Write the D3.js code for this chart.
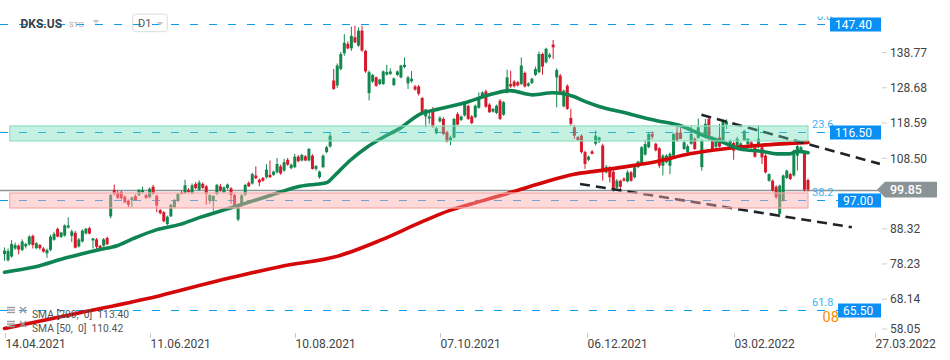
<!DOCTYPE html>
<html><head><meta charset="utf-8">
<script src="https://cdn.jsdelivr.net/npm/d3@7"></script>
<style>
body{margin:0;background:#fff;}
svg{display:block;font-family:Roboto,"Noto Sans",sans-serif;}
.pre{white-space:pre;}
</style>
</head><body>
<svg id="chart" width="950" height="360"></svg>
<script>
// ---------- DATA ----------
const symbol = "DKS.US";
const candles = [ // [open, high, low, close]
[81.4,83.3,79.5,82.4],[79.6,83.0,79.3,82.3],[80.7,85.4,80.4,84.3],[83.0,84.7,82.6,84.0],[83.8,84.2,81.3,82.7],
[82.6,85.6,82.2,85.0],[83.6,84.6,83.0,84.3],[84.2,86.8,83.8,86.4],[86.6,87.0,83.0,84.0],[83.1,84.8,82.8,84.5],
[84.0,84.3,82.6,83.1],[83.0,83.4,81.8,82.1],[81.6,83.0,80.3,82.6],[82.6,86.9,82.2,86.4],[85.5,87.8,85.2,87.2],
[88.6,89.0,86.2,86.4],[86.3,87.8,86.0,87.6],[86.7,89.9,86.4,89.6],[89.0,91.9,88.7,89.6],[86.6,88.4,84.8,87.9],
[87.5,88.0,83.0,83.2],[83.6,86.0,83.3,85.6],[85.0,88.5,84.7,88.1],[87.3,88.9,87.0,88.7],[88.8,89.2,87.0,87.3],
[85.3,86.0,83.0,85.9],[85.6,86.0,82.6,83.5],[83.8,84.0,82.5,83.0],[83.8,86.0,83.5,85.6],[86.0,86.4,84.0,84.2],
[92.2,98.6,91.6,98.3],[99.8,101.3,98.2,98.6],[99.0,99.6,97.2,97.5],[99.2,99.5,97.0,97.4],[97.8,98.2,96.0,96.2],
[96.7,97.0,94.8,95.5],[96.8,97.8,94.8,97.6],[98.0,98.5,96.7,96.9],[98.3,100.0,98.0,99.8],[99.1,100.7,98.9,99.8],
[98.3,98.6,97.2,97.5],[97.7,100.5,97.4,100.1],[100.7,101.2,98.4,98.6],[98.1,98.4,93.4,95.3],[94.0,94.3,92.8,93.1],
[93.4,93.7,90.5,90.8],[90.0,92.4,89.6,92.1],[92.2,95.8,92.0,95.5],[94.8,97.2,94.5,96.9],[96.6,98.9,96.3,98.6],
[99.0,99.6,98.5,98.6],[98.8,102.7,98.6,101.1],[99.8,100.3,98.9,99.2],[98.8,101.6,98.5,101.1],[101.5,102.0,100.0,100.3],
[99.8,102.5,99.5,101.9],[101.5,101.9,100.0,100.4],[100.8,101.2,95.5,98.6],[96.7,98.5,95.8,98.3],[96.7,98.2,93.8,98.1],
[98.6,101.5,98.3,101.2],[100.8,101.5,99.3,99.6],[99.1,100.8,98.8,100.5],[100.3,101.6,99.9,101.3],[100.2,100.6,95.8,98.3],
[98.3,98.6,94.8,95.1],[91.3,95.8,90.8,95.5],[95.3,98.6,95.0,98.2],[98.4,101.5,98.1,101.2],[101.8,102.2,100.6,100.8],
[101.6,104.7,101.3,104.3],[103.9,106.5,102.9,103.1],[102.7,103.0,100.8,101.9],[103.2,103.5,102.1,102.4],[103.4,107.2,103.0,105.6],
[104.1,108.2,103.2,103.4],[104.1,105.3,103.8,105.0],[104.8,108.9,104.5,107.2],[106.5,107.0,104.1,104.5],[105.3,108.7,105.0,107.7],
[108.4,108.9,106.7,107.0],[106.0,107.3,105.7,107.0],[106.3,110.1,106.0,109.3],[109.3,109.8,107.7,108.0],[108.2,110.1,107.9,109.8],
[109.4,109.7,108.0,108.2],[108.2,111.8,107.9,111.5],[109.6,110.0,105.6,105.8],[105.8,106.9,105.3,106.6],[103.4,105.3,103.0,105.0],
[106.3,109.9,106.0,109.6],[110.6,112.4,110.3,112.0],[112.2,116.1,111.9,115.3],[131.1,134.4,128.4,128.7],[129.7,136.0,129.0,135.4],
[134.4,139.3,134.0,138.7],[138.9,144.4,138.2,141.9],[141.6,142.3,140.0,140.3],[140.3,146.5,139.6,143.9],[143.5,146.8,141.8,142.0],
[141.1,146.3,140.7,145.4],[145.4,146.8,139.3,139.7],[139.6,139.9,133.3,133.7],[127.5,134.0,125.4,133.5],[130.8,133.0,130.4,132.7],
[132.0,132.3,129.3,129.6],[130.1,131.6,129.8,131.4],[130.1,134.0,129.8,133.7],[132.8,135.6,132.5,133.5],[133.0,134.6,132.7,133.7],
[129.8,132.0,129.5,131.7],[132.7,134.0,132.4,133.7],[132.0,135.6,131.7,135.4],[135.0,137.7,134.6,135.6],[130.3,132.4,128.7,132.0],
[130.9,133.8,130.5,131.6],[129.4,129.8,128.2,128.5],[129.4,129.8,126.8,127.3],[126.1,126.4,121.5,122.0],[120.8,123.0,117.7,122.8],
[120.2,122.5,118.7,120.8],[122.8,123.5,117.6,117.9],[116.0,117.8,115.7,117.4],[119.4,120.9,119.1,120.4],[120.1,120.6,115.5,115.8],
[116.3,116.7,113.4,113.6],[114.0,115.3,112.6,114.8],[114.8,120.4,114.5,120.1],[121.5,122.0,118.2,118.5],[119.8,121.1,119.5,120.8],
[121.1,124.9,120.8,124.6],[123.8,124.2,119.8,120.1],[120.8,121.2,118.6,118.9],[120.6,124.2,120.3,123.9],[123.3,127.7,123.0,126.3],
[126.3,128.0,126.0,127.7],[128.0,128.5,123.3,123.6],[124.2,124.6,121.9,122.0],[122.2,123.2,121.9,123.0],[121.8,124.2,121.5,123.9],
[125.3,125.8,119.8,120.1],[121.3,125.2,121.0,124.9],[127.7,134.2,127.4,132.0],[130.1,133.9,129.0,129.4],[130.8,131.2,129.1,129.5],
[130.6,131.0,129.4,129.7],[130.1,137.7,129.8,135.4],[133.3,133.7,129.1,129.4],[129.6,130.6,129.3,130.3],[130.4,131.9,130.1,131.6],
[132.7,135.1,132.4,134.4],[133.5,139.4,133.2,138.7],[138.7,139.1,132.8,135.1],[136.3,140.5,136.0,140.2],[137.8,139.0,137.4,138.5],
[141.4,142.7,137.3,140.6],[132.0,134.6,123.4,134.1],[132.5,133.0,127.4,127.7],[123.7,128.5,123.4,128.2],[129.6,130.0,122.7,123.0],
[120.4,123.0,118.2,118.7],[117.7,118.4,114.4,115.3],[114.9,115.2,113.9,114.0],[115.3,115.7,110.2,110.6],[110.6,111.0,105.8,107.2],
[108.4,109.6,108.0,109.3],[110.8,111.2,110.0,110.1],[113.0,116.8,112.5,115.3],[113.6,115.0,113.2,114.8],[112.5,113.0,102.4,104.8],
[104.8,106.9,104.5,106.4],[106.3,106.6,101.9,103.4],[105.0,105.4,99.3,99.8],[100.4,102.9,100.1,102.4],[102.4,102.7,99.6,100.7],
[103.0,103.4,102.2,102.4],[102.2,105.4,101.9,104.8],[104.8,105.2,102.1,102.4],[103.4,107.0,103.1,106.3],[106.3,108.1,106.0,107.9],
[107.2,112.3,106.9,112.0],[109.9,114.1,109.6,112.9],[112.0,116.2,111.7,115.8],[115.8,116.5,114.3,115.0],[113.0,113.3,110.8,111.1],
[111.7,112.0,106.0,106.7],[106.7,110.0,103.9,109.6],[107.7,110.0,107.4,109.6],[106.7,110.5,104.3,110.1],[109.6,116.0,109.3,115.8],
[116.2,117.8,113.5,113.9],[116.2,117.5,114.3,114.4],[111.5,113.8,111.2,113.4],[110.6,112.8,110.3,112.3],[113.0,118.2,112.7,115.8],
[114.4,114.8,111.2,111.5],[114.7,120.2,114.4,117.7],[106.3,114.2,105.3,113.9],[114.8,120.1,114.5,118.7],[120.1,120.6,114.0,114.4],
[113.9,114.3,110.7,111.0],[112.1,114.2,111.8,113.9],[114.8,118.7,111.9,112.2],[113.3,119.9,113.0,119.6],[118.5,120.0,117.2,119.4],
[112.4,114.2,112.1,113.8],[113.2,113.6,108.4,111.0],[112.0,115.0,111.7,114.4],[112.0,113.5,111.7,113.1],[114.1,117.0,113.8,116.7],
[112.9,114.6,112.6,114.4],[113.4,113.7,111.7,112.0],[112.0,112.3,109.0,109.3],[112.0,118.2,111.7,114.4],[112.0,112.4,107.2,109.1],
[109.6,110.0,104.5,104.8],[102.4,104.5,102.1,104.3],[102.4,102.8,99.3,99.6],[100.7,101.1,97.2,97.7],[92.9,101.3,91.9,101.0],
[96.7,104.2,96.4,103.9],[103.2,105.6,102.9,105.3],[104.3,104.7,102.6,102.9],[103.9,111.3,103.6,111.0],[109.6,112.6,105.3,112.3],
[111.0,112.4,110.7,112.0],[110.1,110.5,99.3,99.8],[102.6,103.0,99.3,99.85]
];
// moving averages: [bar index, value]
const sma50 = [[0,76.2],[8.1,77.6],[17.7,80.4],[27,82.7],[31.8,83.8],[36.3,85.8],[43.1,88.4],[49.6,89.9],[55.2,91.9],
[64.5,94.8],[74.2,97.9],[83.5,100.8],[91.1,101.9],[92.8,103.4],[97.6,108.2],[102.4,112.0],[106.9,114.8],[111.7,117.4],
[117.4,121.5],[123,123.0],[130.6,124.9],[138,127.3],[142.8,128.2],[149.3,127.0],[154.9,127.6],[160.6,126.6],[164.5,124.9],
[168.2,123.6],[174.7,122.0],[184.3,119.6],[190.8,118.2],[196.5,115.8],[203,113.4],[207.8,111.5],[214.3,110.8],[218.2,110.1],
[221.9,110.1],[223.9,110.8],[227,110.42]];
const sma200 = [[0,60.1],[21.3,64.6],[43.9,69.5],[61.7,74.1],[77.8,77.8],[94.8,81.0],[106.1,85.3],[117.4,90.4],[125.8,93.9],
[135.2,96.7],[141.9,98.7],[151.3,101.6],[160.6,104.2],[168.2,105.3],[174.7,106.3],[184.3,107.9],[193.6,110.1],[203,111.5],
[212.6,112.5],[221.9,113.1],[227,113.40]];
const trendUpper = [[196.9,121.27],[247.3,107.23]];
const trendLower = [[162.6,101.49],[239.4,89.08]];
const priceTicks = [138.77,128.68,118.59,108.50,88.32,78.23,68.14,58.05];
const dateLabels = ["14.04.2021","11.06.2021","10.08.2021","07.10.2021","06.12.2021","03.02.2022","27.03.2022"];
const dateIdx = [0,41,82,123,164.5,206,246];
const levels = [147.40,116.50,97.00,65.50];
const fibLevels = [116.50,97.00,65.50];
const fibLabels = ["23.6","38.2","61.8"];
const lastPrice = 99.85;
const zoneGreen = [113.8,118.1];
const zonePink = [94.6,98.9];
const zoneIdx = [1.5,227];
const legendRows = ["SMA [200,  0]  113.40","SMA [50,  0]  110.42"];

// ---------- SCALES ----------
const svg = d3.select("#chart");
const x = d3.scaleLinear().domain([0, candles.length-1]).range([4.5, 808]);
const y = d3.scaleLinear().domain([147.4, 65.5]).range([23.6, 309.6]);
const BLUE = "#0a9cf0", UP = "#14874f", DOWN = "#d61a2b";

// level dashed lines
const boxLeft = {147.4:830, 116.5:830, 97:838, 65.5:838};
levels.forEach(v => {
  svg.append("line").attr("x1",0).attr("x2",boxLeft[v]).attr("y1",Math.round(y(v))+0.5).attr("y2",Math.round(y(v))+0.5)
    .attr("stroke",BLUE).attr("stroke-width",1.2).attr("stroke-dasharray","8,11");
});
// last price line
svg.append("line").attr("x1",0).attr("x2",880).attr("y1",Math.round(y(lastPrice))+0.5).attr("y2",Math.round(y(lastPrice))+0.5)
  .attr("stroke","#8f9597").attr("stroke-width",1.3);

// candles
const cg = svg.append("g");
candles.forEach((d,i) => {
  const [o,h,l,c] = d;
  const col = c >= o ? UP : DOWN;
  cg.append("line").attr("x1",x(i)).attr("x2",x(i)).attr("y1",y(h)).attr("y2",y(l)).attr("stroke",col).attr("stroke-width",1);
  const top = y(Math.max(o,c)), bot = y(Math.min(o,c));
  cg.append("rect").attr("x",x(i)-1.5).attr("width",3).attr("y",top).attr("height",Math.max(1,bot-top)).attr("fill",col);
});

// SMAs
const line = d3.line().x(d=>x(d[0])).y(d=>y(d[1])).curve(d3.curveMonotoneX);
svg.append("path").attr("d",line(sma200)).attr("fill","none").attr("stroke","#d40808").attr("stroke-width",3.6).attr("stroke-linecap","round");
svg.append("path").attr("d",line(sma50)).attr("fill","none").attr("stroke","#0e8452").attr("stroke-width",3.6).attr("stroke-linecap","round");

// trend lines
[trendUpper,trendLower].forEach(t => {
  svg.append("line").attr("x1",x(t[0][0])).attr("y1",y(t[0][1])).attr("x2",x(t[1][0])).attr("y2",y(t[1][1]))
    .attr("stroke","#1e2428").attr("stroke-width",2.6).attr("stroke-dasharray","10,6");
});

// zones (on top, translucent)
function zone(z, fill, stroke){
  svg.append("rect").attr("x",x(zoneIdx[0])).attr("width",x(zoneIdx[1])-x(zoneIdx[0]))
    .attr("y",y(z[1])).attr("height",y(z[0])-y(z[1]))
    .attr("fill",fill).attr("stroke",stroke).attr("stroke-width",1.2);
}
zone(zoneGreen,"rgba(100,218,175,0.38)","#8fdfc2");
zone(zonePink,"rgba(250,170,170,0.45)","#f4aaaa");

// fib labels
fibLevels.forEach((v,i)=>{
  svg.append("text").attr("x",812).attr("y",y(v)-4).text(fibLabels[i]).attr("fill","#3db2f0").attr("font-size",11);
});
// clipped top label
svg.append("clipPath").attr("id","topclip").append("rect").attr("x",0).attr("y",16.5).attr("width",950).attr("height",20);
svg.append("text").attr("x",817).attr("y",19.5).text("0.0").attr("fill","#3db2f0").attr("font-size",11).attr("clip-path","url(#topclip)");

// orange countdown (mostly hidden behind the box)
svg.append("text").attr("x",822.5).attr("y",321.5).text("08").attr("fill","#ff8c00").attr("font-size",14.5);

// level boxes
levels.forEach(v => {
  const yy = Math.round(y(v))+0.5;
  const bl = boxLeft[v];
  svg.append("rect").attr("x",bl).attr("y",yy-7).attr("width",881-bl).attr("height",14).attr("fill","#0a8ff5");
  svg.append("text").attr("x",bl+5).attr("y",yy+4.3).text(v.toFixed(2)).attr("fill","#fff").attr("font-size",12);
});

// price axis
priceTicks.forEach(v=>{
  let yy = y(v) - 1.2;
  if (yy > 329) yy = 329;
  svg.append("line").attr("x1",882).attr("x2",887).attr("y1",yy).attr("y2",yy).attr("stroke","#cfcfcf");
  svg.append("text").attr("x",890).attr("y",yy+4.3).text(v.toFixed(2)).attr("fill","#444").attr("font-size",12);
});
// last price tag
const ly = y(lastPrice);
svg.append("path").attr("d",`M877,${ly} L885,${ly-7.8} L937,${ly-7.8} L937,${ly+7.8} L885,${ly+7.8} Z`).attr("fill","#8a9396");
svg.append("text").attr("x",890).attr("y",ly+4.4).text(lastPrice.toFixed(2)).attr("fill","#fff").attr("font-size",12.5).attr("font-weight",500);

// date axis
dateIdx.forEach((di,i)=>{
  const xx = Math.round(x(di))+0.5;
  svg.append("line").attr("x1",xx).attr("x2",xx).attr("y1",333).attr("y2",338).attr("stroke","#c8c8c8");
  svg.append("text").attr("x",xx).attr("y",347.5).text(dateLabels[i]).attr("fill","#444").attr("font-size",12);
});

// legend
legendRows.forEach((t,i)=>{
  const yy = 310 + i*14;
  const g = svg.append("g").attr("stroke","#9a9a9a").attr("stroke-width",1.4);
  [0,2.5,5].forEach(o=> g.append("line").attr("x1",7).attr("x2",15).attr("y1",yy-2.5+o).attr("y2",yy-2.5+o));
  g.append("line").attr("x1",20).attr("x2",26).attr("y1",yy-3).attr("y2",yy+3);
  g.append("line").attr("x1",26).attr("x2",20).attr("y1",yy-3).attr("y2",yy+3);
  svg.append("text").attr("class","pre").attr("x",32).attr("y",yy+7.5).text(t).attr("fill","#555").attr("font-size",10.3);
});

// header
svg.append("text").attr("x",20.5).attr("y",27.5).text(symbol).attr("fill","#3a3f44").attr("font-size",12).attr("font-weight","bold");
svg.append("text").attr("x",69).attr("y",26.5).text("STC").attr("fill","#a8a8a8").attr("font-size",8);
svg.append("path").attr("d","M92.5,20 L99.5,20 L96,23.8 Z").attr("fill","#c8c8c8");
svg.append("rect").attr("x",132.7).attr("y",14.2).attr("width",34.6).attr("height",17.5).attr("rx",3).attr("fill","none").attr("stroke","#dcdcdc");
svg.append("text").attr("x",138).attr("y",27).text("D1").attr("fill","#555").attr("font-size",11);
svg.append("path").attr("d","M156.5,22 L163.5,22 L160,25.5 Z").attr("fill","#c8c8c8");
</script>
</body></html>
